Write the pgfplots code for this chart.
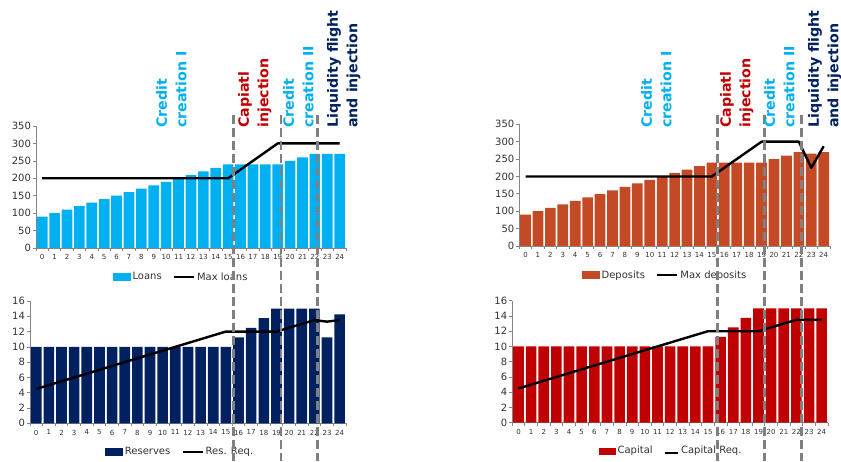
\documentclass[border=0pt]{standalone}
\usepackage{fontspec}
\setmainfont{DejaVu Sans}
\usepackage{pgfplots}
\usepackage{pgfplotstable}
\pgfplotsset{compat=1.18}

\definecolor{loanblue}{RGB}{0,176,240}
\definecolor{depred}{RGB}{196,74,38}
\definecolor{resnavy}{RGB}{0,32,96}
\definecolor{capred}{RGB}{192,0,0}
\definecolor{axisgray}{RGB}{134,134,134}
\definecolor{dashgray}{RGB}{128,128,128}
\definecolor{labeltext}{RGB}{50,50,50}

% balance sheet: loans / deposits and their ceilings
\pgfplotstableread{
x loans maxloans deposits maxdeposits
0 90 200 90 200
1 100 200 100 200
2 110 200 110 200
3 120 200 120 200
4 130 200 130 200
5 140 200 140 200
6 150 200 150 200
7 160 200 160 200
8 170 200 170 200
9 180 200 180 200
10 190 200 190 200
11 200 200 200 200
12 210 200 210 200
13 220 200 220 200
14 230 200 230 200
15 240 200 240 200
16 240 225 240 225
17 240 250 240 250
18 240 275 240 275
19 240 300 240 300
20 250 300 250 300
21 260 300 260 300
22 270 300 270 300
23 270 300 266 225
24 270 300 270 287
}\balancesheet

% reserves and capital against their requirements
\pgfplotstableread{
x reserves resreq capital capreq
0 10 4.5 10 4.5
1 10 5.0 10 5.0
2 10 5.5 10 5.5
3 10 6.0 10 6.0
4 10 6.5 10 6.5
5 10 7.0 10 7.0
6 10 7.5 10 7.5
7 10 8.0 10 8.0
8 10 8.5 10 8.5
9 10 9.0 10 9.0
10 10 9.5 10 9.5
11 10 10.0 10 10.0
12 10 10.5 10 10.5
13 10 11.0 10 11.0
14 10 11.5 10 11.5
15 10 12.0 10 12.0
16 11.25 12.0 11.25 12.0
17 12.5 12.0 12.5 12.0
18 13.75 12.0 13.75 12.0
19 15 12.0 15 12.0
20 15 12.5 15 12.5
21 15 13.0 15 13.0
22 15 13.5 15 13.5
23 11.25 13.3 15 13.5
24 14.25 13.5 15 13.5
}\ratios

\pgfplotsset{
  panel/.style={
    scale only axis, anchor=south west,
    axis x line*=bottom, axis y line*=left,
    axis line style={axisgray, line width=0.7pt, -},
    tick align=outside, major tick length=3pt,
    tick style={axisgray, line width=0.7pt},
    xmin=-0.5, xmax=24.5,
    xtick={-0.5,0.5,1.5,2.5,3.5,4.5,5.5,6.5,7.5,8.5,9.5,10.5,11.5,12.5,13.5,14.5,15.5,16.5,17.5,18.5,19.5,20.5,21.5,22.5,23.5,24.5},
    x tick label as interval,
    xticklabels={0,1,2,3,4,5,6,7,8,9,10,11,12,13,14,15,16,17,18,19,20,21,22,23,24},
    xticklabel style={font=\fontsize{7}{8}\selectfont, text=labeltext},
    yticklabel style={font=\fontsize{10}{12}\selectfont, text=labeltext, xshift=1.5pt},
    /pgf/number format/assume math mode=true,
    ymin=0, clip=false,
    legend cell align=left,
    legend style={draw=none, fill=none, legend columns=-1, anchor=center,
      font=\fontsize{10}{12}\selectfont, text=labeltext,
      /tikz/every even column/.append style={column sep=9pt}},
  },
  reqline/.style={black, line width=2.4pt, line join=round, mark=none,
    legend image code/.code={\draw[black, line width=2.4pt] (0pt,0pt) -- (20pt,0pt);}},
}

\begin{document}
\begin{tikzpicture}
\useasboundingbox (0,0) rectangle (841pt,461pt);

% ---- loans ----
\begin{axis}[panel, at={(36pt,213pt)}, width=309.9pt, height=122pt,
  ymax=350, ytick={0,50,...,350},
  legend style={at={(0.468,-0.238)}}]
\addplot[ybar, bar width=0.86, fill=loanblue, draw=none,
  legend image code/.code={\fill[loanblue] (0pt,-4pt) rectangle (18pt,4pt);}]
  table[x=x, y=loans] {\balancesheet};
\addlegendentry{Loans}
\addplot[reqline] table[x=x, y=maxloans] {\balancesheet};
\addlegendentry{Max loans}
\coordinate (La) at (axis cs:15.45,381.6);
\coordinate (Lb) at (axis cs:19.25,381.6);
\coordinate (Lc) at (axis cs:22.2,381.6);
\coordinate (La') at (axis cs:15.45,-611);
\coordinate (Lb') at (axis cs:19.25,-611);
\coordinate (Lc') at (axis cs:22.2,-611);
\end{axis}

% ---- deposits ----
\begin{axis}[panel, at={(519.3pt,215pt)}, width=310.6pt, height=121.7pt,
  ymax=350, ytick={0,50,...,350},
  legend style={at={(0.469,-0.238)}}]
\addplot[ybar, bar width=0.86, fill=depred, draw=none,
  legend image code/.code={\fill[depred] (0pt,-4pt) rectangle (18pt,4pt);}]
  table[x=x, y=deposits] {\balancesheet};
\addlegendentry{Deposits}
\addplot[reqline] table[x=x, y=maxdeposits] {\balancesheet};
\addlegendentry{Max deposits}
\coordinate (Ra) at (axis cs:15.45,376.7);
\coordinate (Rb) at (axis cs:19.25,376.7);
\coordinate (Rc) at (axis cs:22.2,376.7);
\coordinate (Ra') at (axis cs:15.45,-618);
\coordinate (Rb') at (axis cs:19.25,-618);
\coordinate (Rc') at (axis cs:22.2,-618);
\end{axis}

% ---- reserves ----
\begin{axis}[panel, at={(29.9pt,37.7pt)}, width=316.1pt, height=122.3pt,
  ymax=16, ytick={0,2,...,16},
  legend style={at={(0.475,-0.235)}}]
\addplot[ybar, bar width=0.84, fill=resnavy, draw=none,
  legend image code/.code={\fill[resnavy] (0pt,-4pt) rectangle (18pt,4pt);}]
  table[x=x, y=reserves] {\ratios};
\addlegendentry{Reserves}
\addplot[reqline] table[x=x, y=resreq] {\ratios};
\addlegendentry{Res. Req.}
\end{axis}

% ---- capital ----
\begin{axis}[panel, at={(512.2pt,38.3pt)}, width=315.8pt, height=122pt,
  ymax=16, ytick={0,2,...,16},
  legend style={at={(0.503,-0.224)}}]
\addplot[ybar, bar width=0.84, fill=capred, draw=none,
  legend image code/.code={\fill[capred] (0pt,-5pt) rectangle (17pt,2pt);}]
  table[x=x, y=capital] {\ratios};
\addlegendentry{Capital}
\addplot[reqline, legend image code/.code={\draw[black, line width=2.4pt] (2pt,-3pt) -- (15pt,-3pt);}]
  table[x=x, y=capreq] {\ratios};
\addlegendentry{Capital Req.}
\end{axis}

% phase boundaries running through both panels of each column
\begin{scope}[dashgray, line width=2.6pt, dash pattern=on 9pt off 4pt]
\draw (La) -- (La');
\draw (Lb) -- (Lb');
\draw (Lc) -- (Lc');
\draw (Ra) -- (Ra');
\draw (Rb) -- (Rb');
\draw (Rc) -- (Rc');
\end{scope}

% phase names
\begin{scope}[every node/.style={rotate=90, anchor=north west, align=left,
    inner sep=0pt, font=\fontsize{14.2}{19.5}\selectfont\bfseries}]
\node[loanblue] at (156pt,333pt) {Credit\\creation I};
\node[capred]   at (238pt,333pt) {Capiatl\\injection};
\node[loanblue] at (283pt,333pt) {Credit\\creation II};
\node[resnavy]  at (327pt,333pt) {Liquidity flight\\and injection};
\node[loanblue] at (641pt,333pt) {Credit\\creation I};
\node[capred]   at (720pt,333pt) {Capiatl\\injection};
\node[loanblue] at (764pt,333pt) {Credit\\creation II};
\node[resnavy]  at (808pt,333pt) {Liquidity flight\\and injection};
\end{scope}
\end{tikzpicture}
\end{document}
